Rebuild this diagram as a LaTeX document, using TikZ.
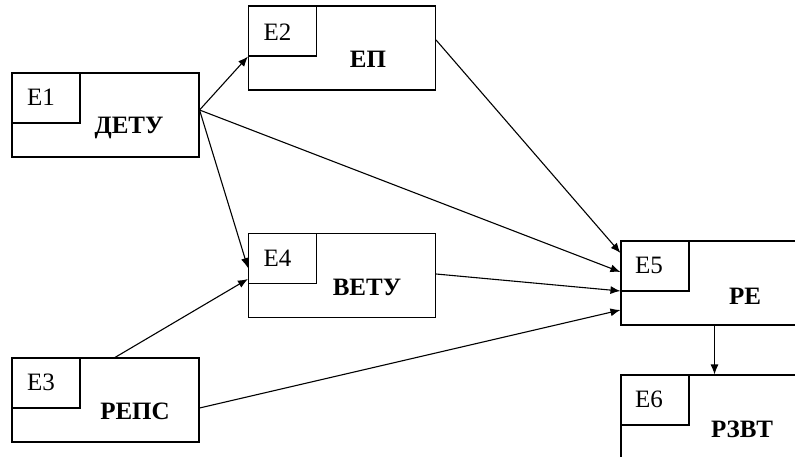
\documentclass[tikz,border=0pt]{standalone}
\usepackage{fontspec}
\setmainfont{Liberation Serif}
\usetikzlibrary{arrows.meta}
\begin{document}
\begin{tikzpicture}[x=1pt,y=-1pt,
  box/.style={draw,line width=1.1pt,minimum width=187pt,minimum height=84pt,inner sep=0pt},
  inbox/.style={draw,line width=1.1pt,minimum width=68pt,minimum height=50pt,inner sep=0pt,anchor=north west},
  idtext/.style={font=\fontsize{25}{28}\selectfont,inner sep=0pt},
  nametext/.style={font=\fontsize{25}{28}\selectfont\bfseries,inner sep=0pt},
  conn/.style={line width=1.1pt,-{Latex[length=10pt,width=8pt]}}]
\useasboundingbox (0,0) rectangle (795,457);
\clip (0,0) rectangle (795,457);
% boxes
\node[box] (e1) at (105.5,115) {};
\node[box] (e2) at (342,48) {};
\node[box] (e3) at (105.5,400) {};
\node[box] (e4) at (342,275.5) {};
\node[box] (e5) at (714.5,283) {};
\node[box] (e6) at (714.5,417) {};
\foreach \n in {e1,e2,e3,e4,e5,e6}{\node[inbox] (\n i) at (\n.north west) {};}
% labels
\node[idtext] (t1) at (41,97) {E1};
\node[nametext] (n1) at (129,128) {ДЕТУ};
\node[idtext] (t2) at (277.5,32) {E2};
\node[nametext] (n2) at (368,59) {ЕП};
\node[idtext] (t3) at (41,382.5) {E3};
\node[nametext] (n3) at (135,411.5) {РЕПС};
\node[idtext] (t4) at (277.5,258) {E4};
\node[nametext] (n4) at (367,287.5) {ВЕТУ};
\node[idtext] (t5) at (649,265) {E5};
\node[nametext] (n5) at (745,296) {РЕ};
\node[idtext] (t6) at (649,399) {E6};
\node[nametext] (n6) at (742,429) {РЗВТ};
% connectors
\draw[conn] ([yshift=5pt]e1.east) -- (e2i.south west);
\draw[conn] ([yshift=5pt]e1.east) -- ([yshift=7.5pt]e4.west);
\draw[conn] ([yshift=5pt]e1.east) -- ([yshift=11pt]e5.west);
\draw[conn] ([yshift=8pt]e2.east) -- ([yshift=30pt]e5.west);
\draw[conn] ([xshift=9.5pt]e3.north) -- ([yshift=-3.5pt]e4.west);
\draw[conn] ([yshift=1.5pt]e4.east) -- ([yshift=-8pt]e5.west);
\draw[conn] ([yshift=-8pt]e3.east) -- ([yshift=-27pt]e5.west);
\draw[conn] (e5.south) -- (e6.north);
\end{tikzpicture}
\end{document}
